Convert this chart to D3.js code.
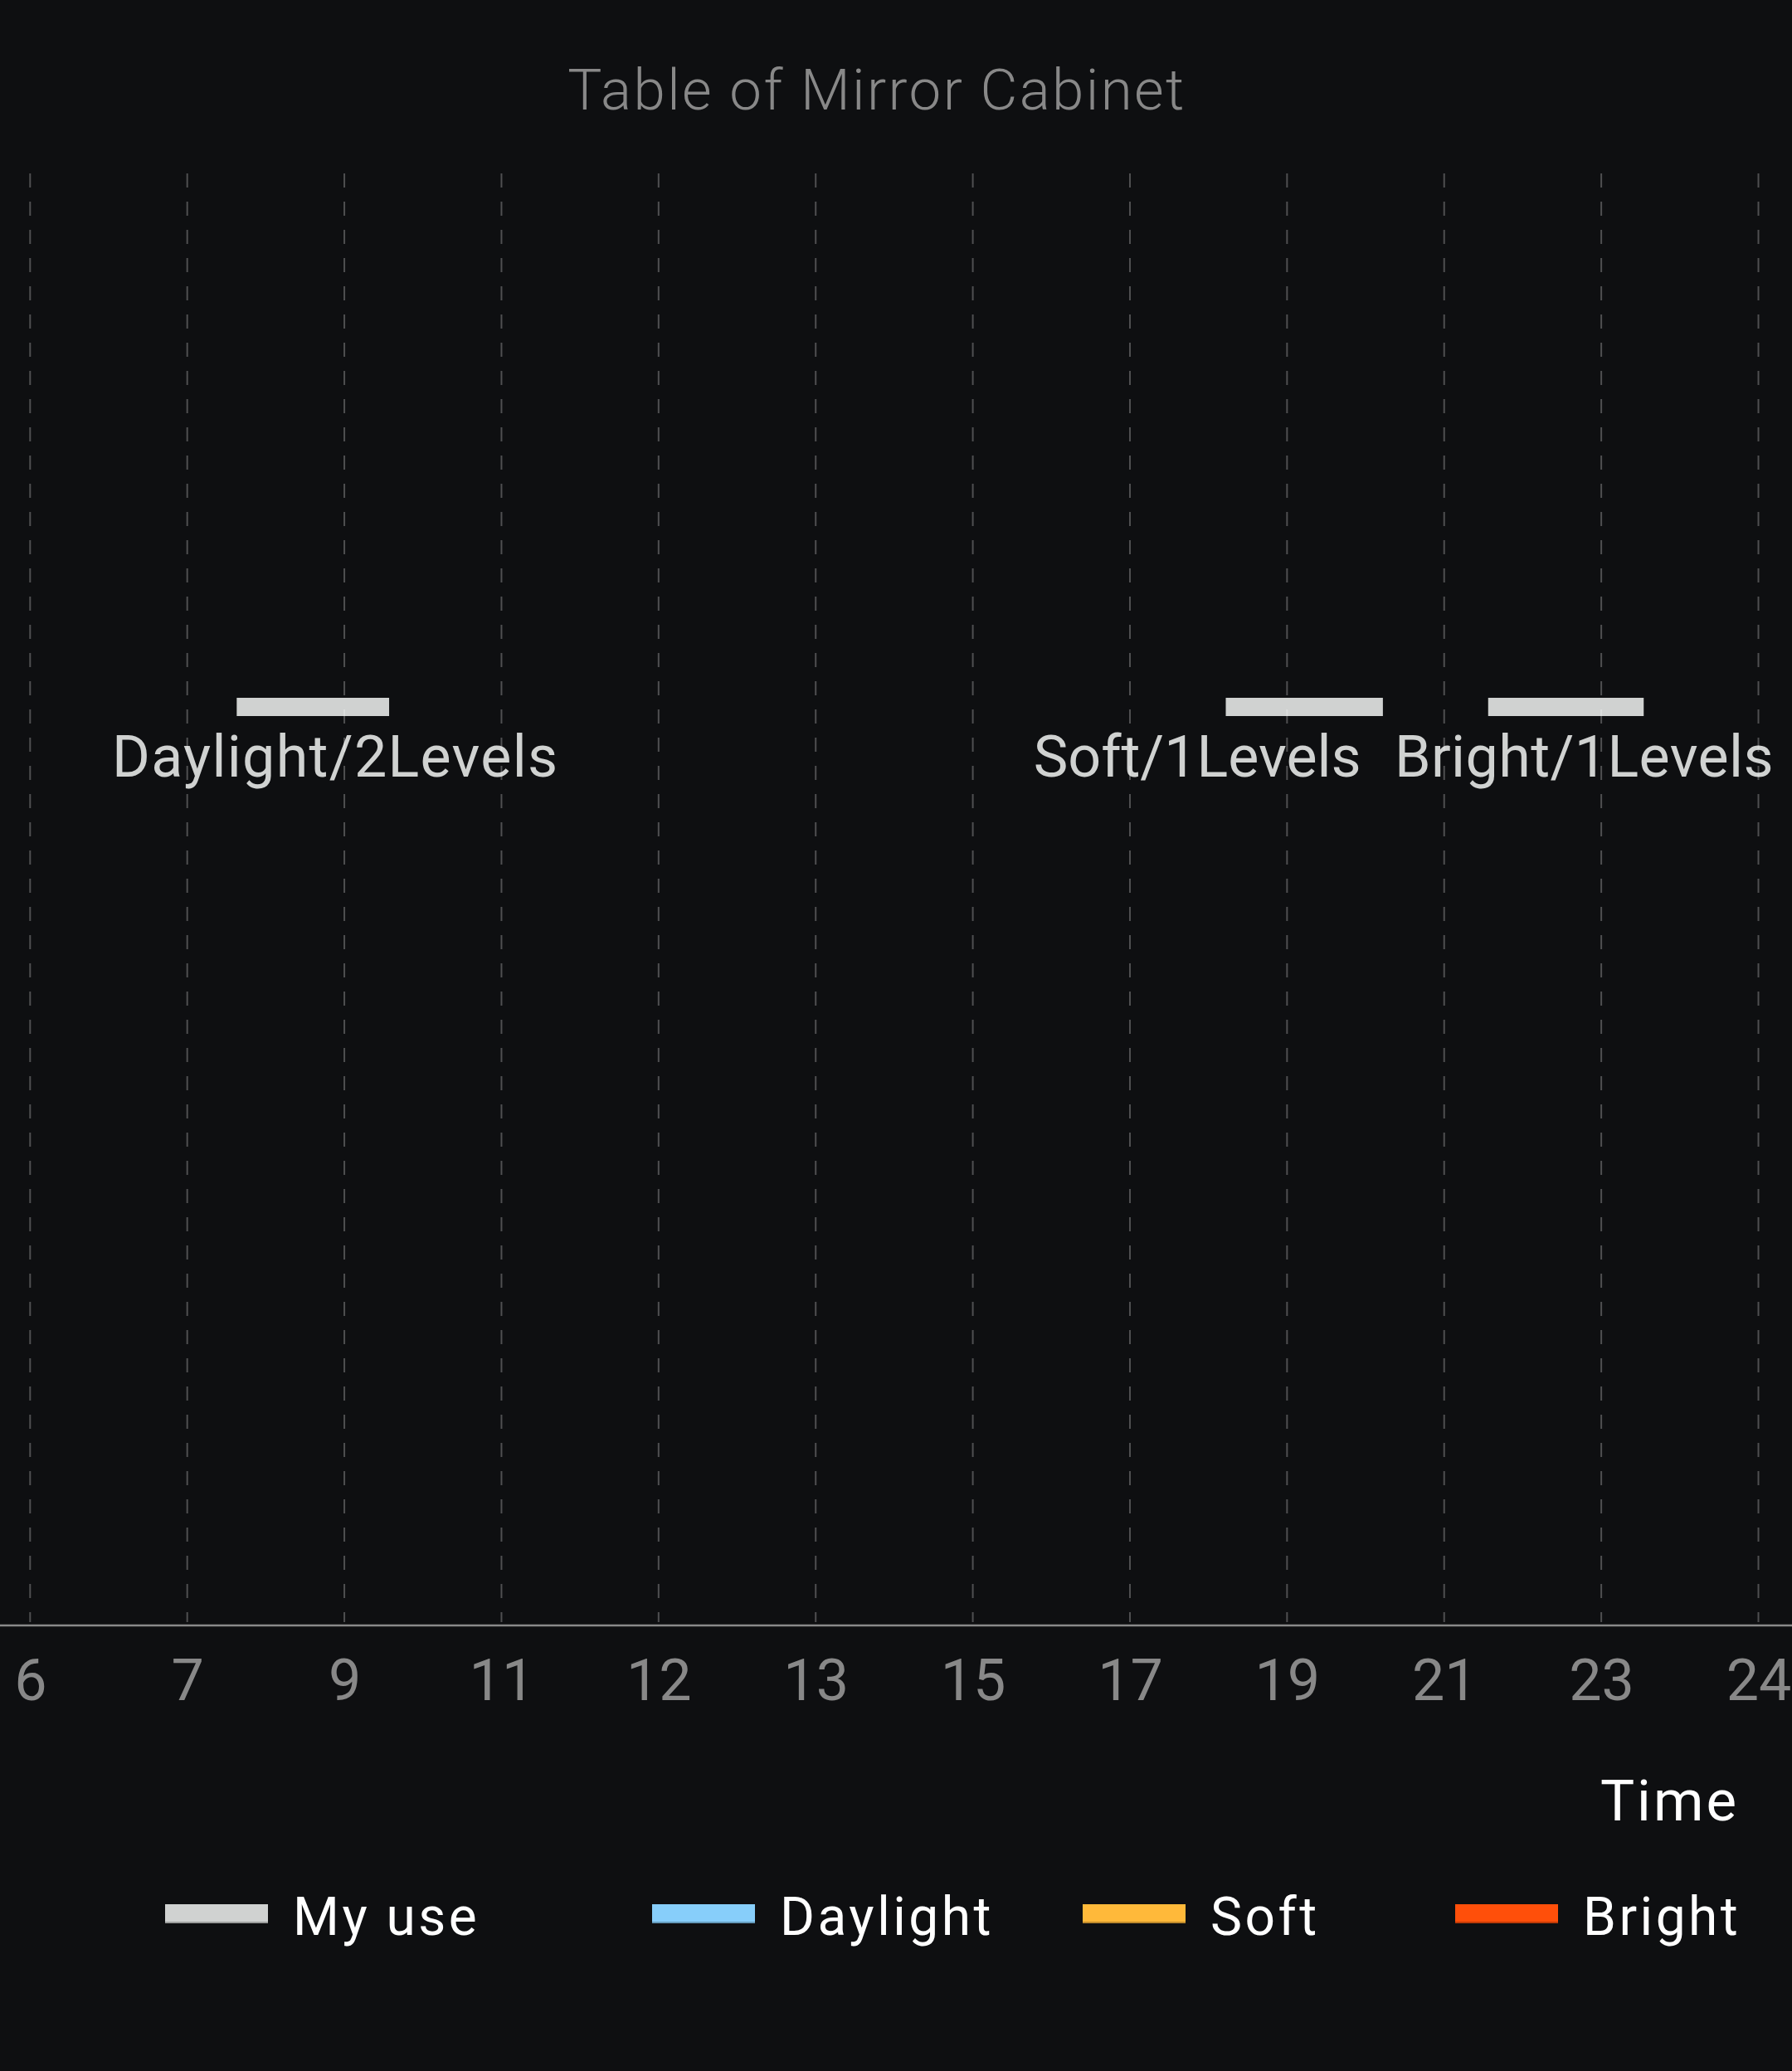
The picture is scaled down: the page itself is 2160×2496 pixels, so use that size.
<!DOCTYPE html>
<html>
<head>
<meta charset="utf-8">
<script src="https://cdn.jsdelivr.net/npm/d3@7"></script>
<style>
  html, body { margin: 0; padding: 0; background: #0e0f11; }
  svg { display: block; }
</style>
</head>
<body>
<svg id="chart" width="2160" height="2496"></svg>
<script>
// ---------- data ----------
const chartTitle = "Table of Mirror Cabinet";
const axisTitle = "Time";
const timeTicks = [6, 7, 9, 11, 12, 13, 15, 17, 19, 21, 23, 24];
const useRow = ["My use"];
const useStart = [7.63, 18.22, 21.56];
const useEnd = [9.57, 20.22, 23.27];
const useLabels = ["Daylight/2Levels", "Soft/1Levels", "Bright/1Levels"];
const legendNames = ["My use", "Daylight", "Soft", "Bright"];

// ---------- styles / layout ----------
const W = 2160, H = 2496;
const FONT = "Roboto, 'Liberation Sans', Arial, sans-serif";
const legendColors = ["#d0d2d1", "#87cefa", "#ffb93a", "#ff4f0a"];
const barColor = "#d0d2d1";
const plotTop = 209, plotBottom = 1959;
const labelShift = [27, -129, 22];
const labelSpacing = [1.3, 0, 0.4];
const legendX = [199, 786, 1305, 1754];

const svg = d3.select("#chart");
svg.append("rect").attr("width", W).attr("height", H).attr("fill", "#0e0f11");

// scales
const xPoint = d3.scalePoint().domain(timeTicks).range([36.3, 2119.5]);
const xTime = d3.scaleLinear().domain(timeTicks).range(timeTicks.map(t => xPoint(t)));
const yRow = d3.scaleBand().domain(useRow).range([841, 863]);

// title
svg.append("text")
  .attr("x", 1057).attr("y", 132)
  .attr("text-anchor", "middle")
  .attr("font-family", FONT).attr("font-weight", 300)
  .attr("font-size", 69).attr("fill", "#888888")
  .attr("letter-spacing", 2.4)
  .text(chartTitle);

// bars
const bars = useStart.map((s, i) => ({ s, e: useEnd[i], label: useLabels[i], row: useRow[0], i }));
svg.append("g").selectAll("rect").data(bars).join("rect")
  .attr("x", d => xTime(d.s))
  .attr("width", d => xTime(d.e) - xTime(d.s))
  .attr("y", d => yRow(d.row))
  .attr("height", yRow.bandwidth())
  .attr("fill", barColor);

// bar labels
svg.append("g").selectAll("text").data(bars).join("text")
  .attr("x", d => (xTime(d.s) + xTime(d.e)) / 2 + labelShift[d.i])
  .attr("y", d => yRow(d.row) + yRow.bandwidth() + 73)
  .attr("text-anchor", "middle")
  .attr("font-family", FONT).attr("font-size", 70)
  .attr("letter-spacing", d => labelSpacing[d.i])
  .attr("fill", "#d0d2d1")
  .text(d => d.label);

// dashed gridlines (on top, translucent)
svg.append("g").selectAll("line").data(timeTicks).join("line")
  .attr("x1", d => xPoint(d)).attr("x2", d => xPoint(d))
  .attr("y1", plotTop).attr("y2", plotBottom - 4)
  .attr("stroke", "rgba(255,255,255,0.27)")
  .attr("stroke-width", 2)
  .attr("stroke-dasharray", "17,17");

// x axis
const xAxis = d3.axisBottom(xPoint).tickSize(0).tickPadding(0);
const gx = svg.append("g").attr("transform", `translate(0,${plotBottom})`).call(xAxis);
gx.select(".domain").remove();
gx.selectAll("text")
  .attr("y", 90).attr("dy", null)
  .attr("font-family", FONT).attr("font-size", 70)
  .attr("fill", "#888888");
svg.append("line")
  .attr("x1", 0).attr("x2", W)
  .attr("y1", plotBottom).attr("y2", plotBottom)
  .attr("stroke", "#8a8a8a").attr("stroke-width", 2.6);

// axis title
svg.append("text")
  .attr("x", 2096).attr("y", 2194)
  .attr("text-anchor", "end")
  .attr("font-family", FONT).attr("font-size", 69)
  .attr("letter-spacing", 3)
  .attr("fill", "#ffffff")
  .text(axisTitle);

// legend
const lg = svg.append("g").selectAll("g").data(legendNames).join("g")
  .attr("transform", (d, i) => `translate(${legendX[i]},2295)`);
lg.append("rect").attr("width", 124).attr("height", 23)
  .attr("fill", (d, i) => legendColors[i]);
lg.append("rect").attr("y", 21).attr("width", 124).attr("height", 2)
  .attr("fill", (d, i) => d3.color(legendColors[i]).darker(0.8));
lg.append("text")
  .attr("x", 154).attr("y", 37)
  .attr("font-family", FONT).attr("font-size", 64)
  .attr("letter-spacing", 3.5)
  .attr("fill", "#ffffff")
  .text(d => d);
</script>
</body>
</html>
